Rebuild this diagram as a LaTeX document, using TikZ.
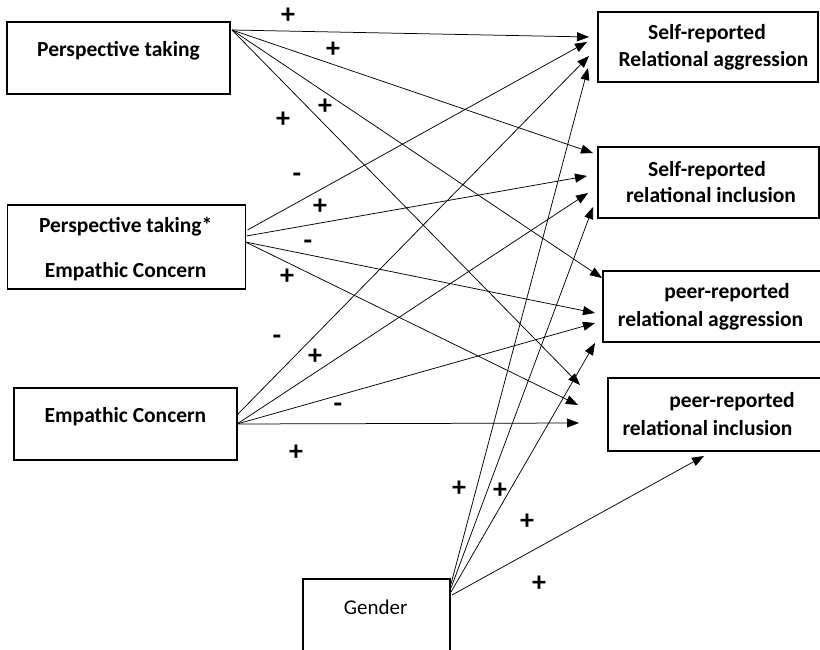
\documentclass[tikz,border=0pt]{standalone}
\usepackage{fontspec}
\setmainfont{Carlito}
\usetikzlibrary{arrows.meta,calc}
\begin{document}
\begin{tikzpicture}[x=1pt,y=-1pt,
  box/.style={draw, line width=1.2pt, rectangle, inner sep=0pt, outer sep=0pt},
  txt/.style={anchor=base, inner sep=0pt, font=\fontsize{21.5}{24}\selectfont\bfseries},
  gtxt/.style={anchor=base, inner sep=0pt, font=\fontsize{21}{24}\selectfont},
  sgn/.style={inner sep=0pt, font=\fontsize{28}{30}\selectfont\bfseries},
  arr/.style={line width=0.75pt, -{Triangle[length=12pt,width=9pt]}},
]
\useasboundingbox (0,0) rectangle (820,650);
\clip (0,0) rectangle (820,650);

% boxes
\node[box, minimum width=223pt, minimum height=72pt] (pt) at (118.5,58) {};
\node[box, minimum width=238pt, minimum height=84pt] (ptec) at (126.5,247) {};
\node[box, minimum width=223pt, minimum height=72pt] (ec) at (125.5,424) {};
\node[box, minimum width=147pt, minimum height=86pt] (gen) at (376.5,622) {};
\node[box, minimum width=220pt, minimum height=70pt] (sra) at (708,47) {};
\node[box, minimum width=221pt, minimum height=71pt] (sri) at (708.5,182.5) {};
\node[box, minimum width=227pt, minimum height=71pt] (pra) at (716.5,306.5) {};
\node[box, minimum width=222pt, minimum height=73pt] (pri) at (719,414.5) {};

% texts
\node[txt] (t1) at (118.5,57) {Perspective taking};
\node[txt] (t2) at (125.7,233) {Perspective taking*};
\node[txt] (t3) at (125.7,277) {Empathic Concern};
\node[txt] (t4) at (125.5,422) {Empathic Concern};
\node[gtxt] (t5) at (375.7,614) {Gender};
\node[txt] (t6) at (707,40) {Self-reported};
\node[txt] (t7) at (713.5,67) {Relational aggression};
\node[txt] (t8) at (707,177) {Self-reported};
\node[txt] (t9) at (711,203) {relational inclusion};
\node[txt] (t10) at (727,298) {peer-reported};
\node[txt] (t11) at (710.5,326) {relational aggression};
\node[txt] (t12) at (732,407) {peer-reported};
\node[txt] (t13) at (707.5,435) {relational inclusion};

% arrows from Perspective taking
\draw[arr] ($(pt.north east)+(2,8)$) -- ($(sra.north west)+(-9,25)$);
\draw[arr] ($(pt.north east)+(2,8)$) -- ($(sri.north west)+(-5,6)$);
\draw[arr] ($(pt.north east)+(2,8)$) -- ($(pra.north west)+(-1,7)$);
\draw[arr] ($(pt.north east)+(2,8)$) -- ($(pri.north west)+(-28,7)$);
% arrows from interaction
\draw[arr] ($(ptec.north east)+(2,25)$) -- ($(sra.north west)+(-11,30)$);
\draw[arr] ($(ptec.north east)+(1,31)$) -- ($(sri.north west)+(-11,29)$);
\draw[arr] ($(ptec.north east)+(0,37)$) -- ($(pra.north west)+(-8,42)$);
\draw[arr] ($(ptec.north east)+(0,37)$) -- ($(pri.north west)+(-30,27)$);
% arrows from Empathic Concern
\draw[arr] ($(ec.north east)+(0,27)$) -- ($(sra.north west)+(-9,44)$);
\draw[arr] ($(ec.north east)+(0,36)$) -- ($(sri.north west)+(-10,46)$);
\draw[arr] ($(ec.north east)+(0,36)$) -- ($(pra.north west)+(-8,52)$);
\draw[arr] ($(ec.north east)+(0,36)$) -- ($(pri.north west)+(-29,45)$);
% arrows from Gender
\draw[arr] ($(gen.north east)+(1,5)$) -- ($(sra.north west)+(-10,56)$);
\draw[arr] ($(gen.north east)+(1,9)$) -- ($(sri.north west)+(-5,60)$);
\draw[arr] ($(gen.north east)+(1,13)$) -- ($(pra.north west)+(-8,72)$);
\draw[arr] ($(gen.north east)+(2,16)$) -- ($(pri.south west)+(96,5)$);

% signs
\node[sgn] (s1) at (288,16) {+};
\node[sgn] (s2) at (333,50) {+};
\node[sgn] (s3) at (325,107) {+};
\node[sgn] (s4) at (283,120) {+};
\node[sgn] (s5) at (297,178) {-};
\node[sgn] (s6) at (320,207) {+};
\node[sgn] (s7) at (308,245) {-};
\node[sgn] (s8) at (287,277) {+};
\node[sgn] (s9) at (277,340) {-};
\node[sgn] (s10) at (315,357) {+};
\node[sgn] (s11) at (338,408) {-};
\node[sgn] (s12) at (296,453) {+};
\node[sgn] (s13) at (459,489) {+};
\node[sgn] (s14) at (500,491) {+};
\node[sgn] (s15) at (527,522) {+};
\node[sgn] (s16) at (539,584) {+};
\end{tikzpicture}
\end{document}
